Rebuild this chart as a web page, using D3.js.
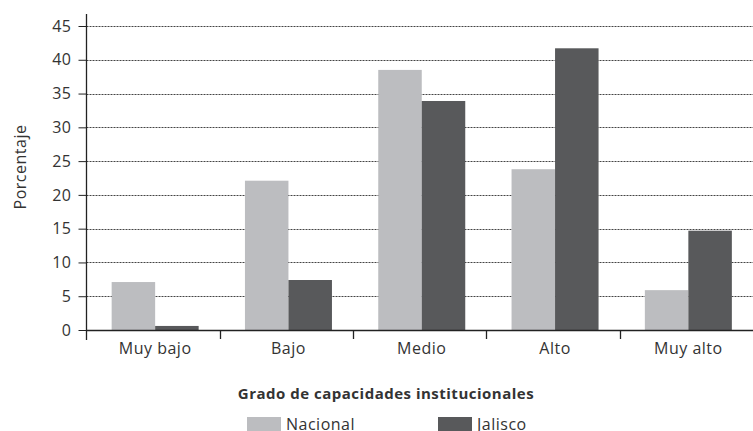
<!DOCTYPE html>
<html>
<head>
<meta charset="utf-8">
<script src="https://cdn.jsdelivr.net/npm/d3@7"></script>
<style>
  html, body { margin: 0; padding: 0; background: #fff; }
  svg { display: block; font-family: "Open Sans", Lato, sans-serif; }
</style>
</head>
<body>
<svg id="chart" width="753" height="431"></svg>
<script>
const categories = ["Muy bajo", "Bajo", "Medio", "Alto", "Muy alto"];
const seriesNames = ["Nacional", "Jalisco"];
const nacional = [7.1, 22.1, 38.5, 23.8, 5.9];
const jalisco = [0.6, 7.4, 33.9, 41.7, 14.7];
const yTicks = [0, 5, 10, 15, 20, 25, 30, 35, 40, 45];
const colors = ["#bcbdc0", "#58595b"];

(function draw() {
  const svg = d3.select("#chart");
  const plotLeft = 86.5, plotRight = 753, plotTop = 26, plotBottom = 330;
  const font = "'Open Sans', Lato, sans-serif";
  const textColor = "#333";

  const x = d3.scaleBand().domain(categories).range([plotLeft, plotRight]);
  const xs = d3.scaleBand().domain(seriesNames).range([0, 87]);
  const y = d3.scaleLinear().domain([0, 45]).range([plotBottom, plotTop]);

  // dotted gridlines
  svg.append("g").selectAll("line").data(yTicks.filter(d => d > 0)).join("line")
    .attr("x1", plotLeft).attr("x2", plotRight)
    .attr("y1", d => Math.round(y(d)) + 0.5).attr("y2", d => Math.round(y(d)) + 0.5)
    .attr("stroke", "#444").attr("stroke-width", 1).attr("stroke-dasharray", "2,1");

  // bars
  const data = categories.map((c, i) => ({ c, vals: [nacional[i], jalisco[i]] }));
  const groups = svg.append("g").selectAll("g").data(data).join("g")
    .attr("transform", d => `translate(${x(d.c) + x.bandwidth() / 2 - 43.5 + 2},0)`);
  groups.selectAll("rect").data(d => d.vals.map((v, j) => ({ v, s: seriesNames[j], j })))
    .join("rect")
    .attr("x", d => xs(d.s)).attr("width", xs.bandwidth())
    .attr("y", d => y(d.v)).attr("height", d => plotBottom - y(d.v))
    .attr("fill", d => colors[d.j]);

  // y axis
  const yAxis = d3.axisLeft(y).tickValues(yTicks).tickSize(8).tickPadding(7);
  const gy = svg.append("g").attr("transform", `translate(${plotLeft},0)`).call(yAxis);
  gy.select(".domain").remove();
  gy.selectAll(".tick line").attr("stroke", "#222");
  gy.selectAll(".tick text").attr("fill", textColor).style("font-size", "16px")
    .style("font-family", font).style("letter-spacing", "0.5px");
  svg.append("line").attr("x1", plotLeft).attr("x2", plotLeft).attr("y1", 14).attr("y2", 340)
    .attr("stroke", "#222").attr("stroke-width", 1.3);

  // x axis
  svg.append("line").attr("x1", plotLeft).attr("x2", plotRight)
    .attr("y1", plotBottom + 0.5).attr("y2", plotBottom + 0.5)
    .attr("stroke", "#222").attr("stroke-width", 1.3);
  svg.append("g").selectAll("line").data(categories.slice(1)).join("line")
    .attr("x1", d => Math.round(x(d)) + 0.5).attr("x2", d => Math.round(x(d)) + 0.5)
    .attr("y1", plotBottom).attr("y2", plotBottom + 9)
    .attr("stroke", "#222").attr("stroke-width", 1.3);
  svg.append("g").selectAll("text").data(categories).join("text")
    .attr("x", d => x(d) + x.bandwidth() / 2 + 2).attr("y", 354)
    .attr("text-anchor", "middle").attr("fill", textColor).style("font-size", "16px")
    .style("letter-spacing", "0.5px")
    .text(d => d);

  // axis titles
  svg.append("text").attr("transform", "translate(26,167) rotate(-90)")
    .attr("text-anchor", "middle").attr("fill", textColor).style("font-size", "16px")
    .style("letter-spacing", "0.5px")
    .text("Porcentaje");
  svg.append("text").attr("x", 386).attr("y", 399).attr("text-anchor", "middle")
    .attr("fill", textColor).style("font-size", "15px").style("font-weight", "bold")
    .style("letter-spacing", "0.5px")
    .text("Grado de capacidades institucionales");

  // legend
  const legendX = [247, 438];
  const lg = svg.append("g").selectAll("g").data(seriesNames).join("g")
    .attr("transform", (d, i) => `translate(${legendX[i]},417)`);
  lg.append("rect").attr("width", 34).attr("height", 14).attr("fill", (d, i) => colors[i]);
  lg.append("text").attr("x", 39).attr("y", 13).attr("fill", textColor).style("font-size", "16px")
    .style("letter-spacing", "0.5px").text(d => d);
})();
</script>
</body>
</html>
